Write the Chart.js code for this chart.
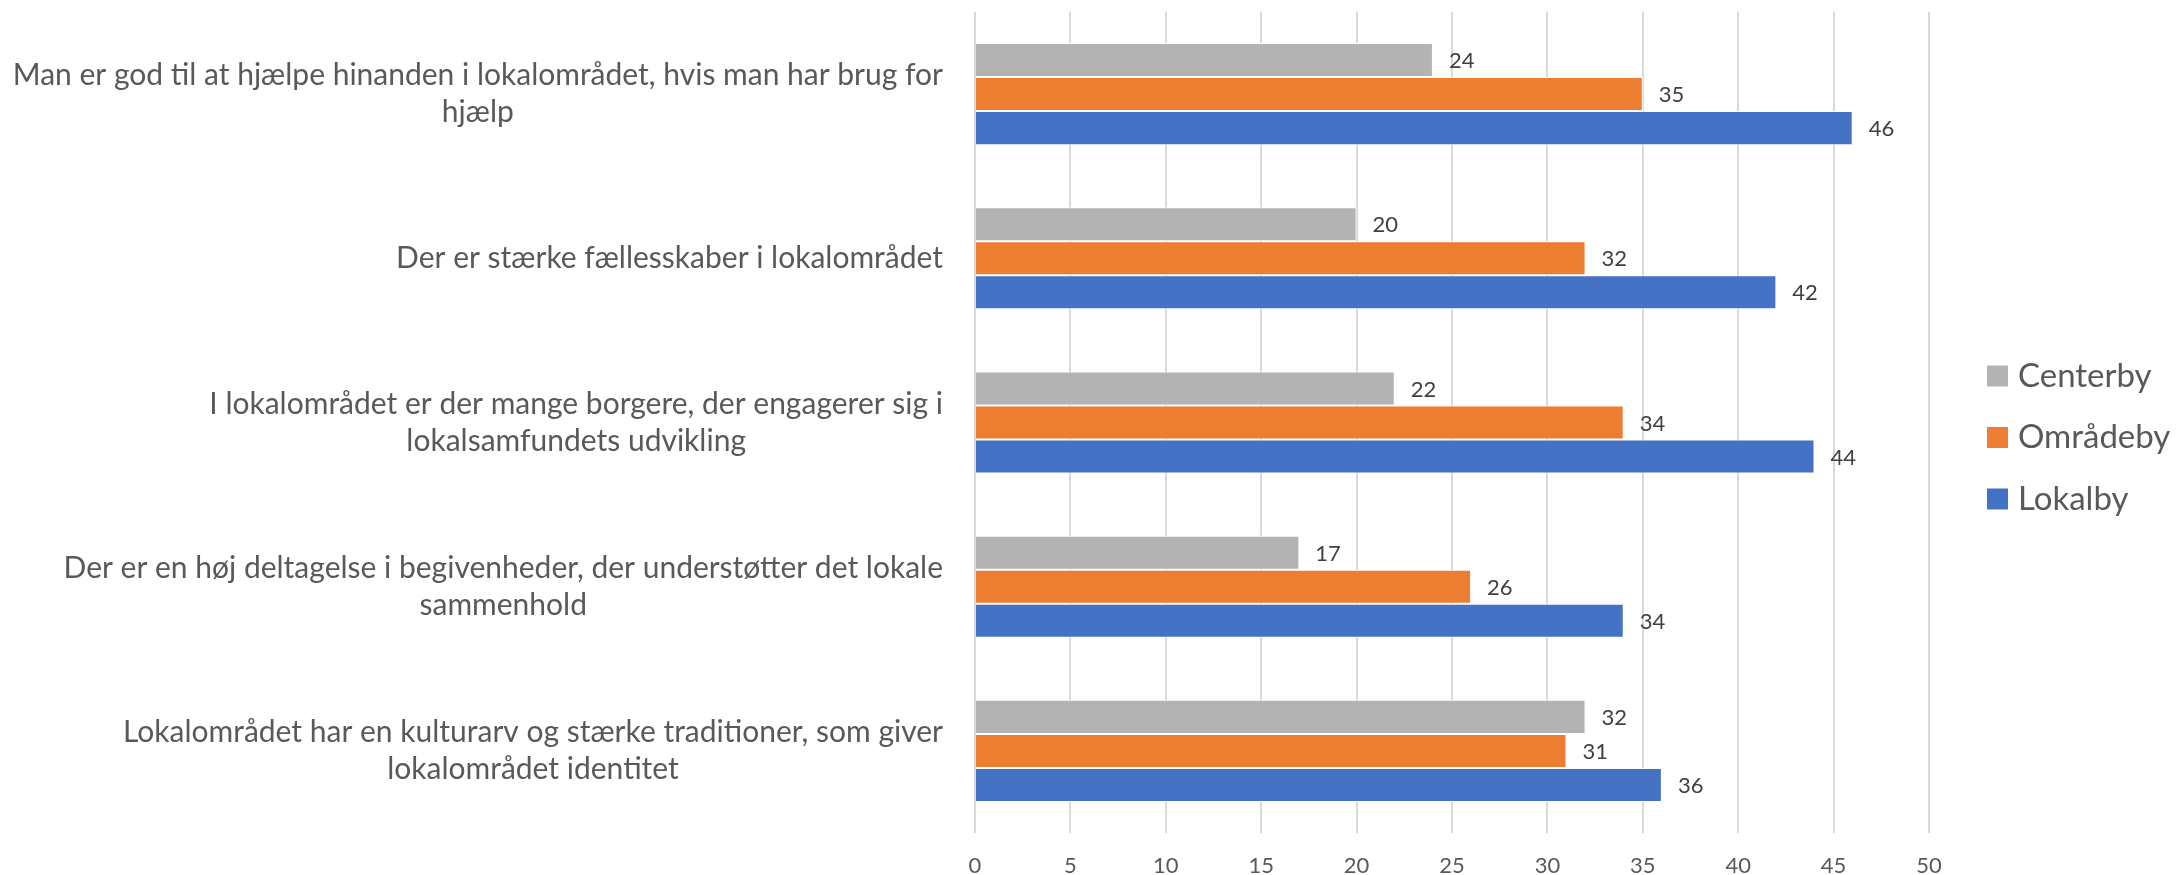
<!DOCTYPE html>
<html lang="da">
<head>
<meta charset="utf-8">
<title>Lokalområdet</title>
<script src="https://cdn.jsdelivr.net/npm/chart.js@4.4.1/dist/chart.umd.min.js"></script>
<style>
    html, body { margin: 0; padding: 0; background: #fff; }
    #wrap { width: 2183px; height: 875px; position: relative; }
</style>
</head>
<body>
<div id="wrap"><canvas id="surveyChart"></canvas></div>
<script>
// Statements (multi-line labels as in the original)
const statements = [
    ['Man er god til at hjælpe hinanden i lokalområdet, hvis man har brug for', 'hjælp'],
    ['Der er stærke fællesskaber i lokalområdet'],
    ['I lokalområdet er der mange borgere, der engagerer sig i', 'lokalsamfundets udvikling'],
    ['Der er en høj deltagelse i begivenheder, der understøtter det lokale', 'sammenhold'],
    ['Lokalområdet har en kulturarv og stærke traditioner, som giver', 'lokalområdet identitet']
];

const seriesNames = ['Centerby', 'Områdeby', 'Lokalby'];
const centerbyValues = [24, 20, 22, 17, 32];
const omraadebyValues = [35, 32, 34, 26, 31];
const lokalbyValues = [46, 42, 44, 34, 36];

const axisMin = 0;
const axisMax = 50;
const axisStep = 5;

const seriesColors = ['#b3b3b3', '#ed7d31', '#4472c4'];
const textGrey = '#595959';
const FONT = 'Lato, "Open Sans", sans-serif';

/**
 * Category labels: each block right-aligned against the axis, lines centred in the block
 */
const statementLabels = {
    id: 'statementLabels',
    afterDraw(chart) {
        const { ctx, scales: { y }, chartArea } = chart;
        const rightEdge = chartArea.left - 32;
        const lineH = 37;
        ctx.save();
        ctx.font = '30px ' + FONT;
        ctx.fillStyle = textGrey;
        ctx.textAlign = 'center';
        ctx.textBaseline = 'middle';
        chart.data.labels.forEach((lines, i) => {
            const cy = y.getPixelForTick(i);
            const maxW = Math.max(...lines.map(l => ctx.measureText(l).width));
            const cx = rightEdge - maxW / 2;
            const startY = cy - (lines.length - 1) * lineH / 2;
            lines.forEach((l, j) => ctx.fillText(l, cx, startY + j * lineH));
        });
        ctx.restore();
    }
};

/**
 * Value labels just past the end of each bar
 */
const valueLabels = {
    id: 'valueLabels',
    afterDatasetsDraw(chart) {
        const { ctx } = chart;
        ctx.save();
        ctx.font = '22px ' + FONT;
        ctx.fillStyle = '#404040';
        ctx.textAlign = 'left';
        ctx.textBaseline = 'middle';
        chart.data.datasets.forEach((ds, di) => {
            const meta = chart.getDatasetMeta(di);
            meta.data.forEach((bar, i) => {
                ctx.fillText(String(ds.data[i]), bar.x + 16, bar.y + 1);
            });
        });
        ctx.restore();
    }
};

/**
 * Legend on the right, vertically centred
 */
const sideLegend = {
    id: 'sideLegend',
    afterDraw(chart) {
        const { ctx, chartArea } = chart;
        const boxX = chartArea.right + 58;
        const rowGap = 61.5;
        const midY = chart.height / 2;
        ctx.save();
        ctx.font = '33px ' + FONT;
        ctx.textBaseline = 'middle';
        ctx.textAlign = 'left';
        chart.data.datasets.forEach((ds, i) => {
            const cy = midY + (i - 1) * rowGap;
            ctx.fillStyle = ds.backgroundColor;
            ctx.fillRect(boxX, cy - 10.5, 21, 21);
            ctx.fillStyle = textGrey;
            ctx.fillText(ds.label, boxX + 31, cy);
        });
        ctx.restore();
    }
};

const seriesValues = [centerbyValues, omraadebyValues, lokalbyValues];

new Chart(document.getElementById('surveyChart'), {
    type: 'bar',
    data: {
        labels: statements,
        datasets: seriesNames.map((name, i) => ({
            label: name,
            data: seriesValues[i],
            backgroundColor: seriesColors[i],
            borderColor: '#ffffff',
            borderWidth: 1,
            categoryPercentage: 0.622,
            barPercentage: 1
        }))
    },
    options: {
        indexAxis: 'y',
        responsive: true,
        maintainAspectRatio: false,
        animation: false,
        layout: { padding: { top: 12, right: 254, left: 0, bottom: 0 } },
        plugins: {
            legend: { display: false },
            tooltip: { enabled: false }
        },
        scales: {
            x: {
                min: axisMin,
                max: axisMax,
                border: { display: false },
                grid: { color: '#d9d9d9', lineWidth: 2, drawTicks: false },
                ticks: {
                    stepSize: axisStep,
                    padding: 20,
                    color: textGrey,
                    font: { family: FONT, size: 22 }
                },
                afterFit(scale) { scale.height = 42; }
            },
            y: {
                border: { display: false },
                grid: { display: false },
                ticks: { display: false },
                afterFit(scale) { scale.width = 975; }
            }
        }
    },
    plugins: [statementLabels, valueLabels, sideLegend]
});
</script>
</body>
</html>
